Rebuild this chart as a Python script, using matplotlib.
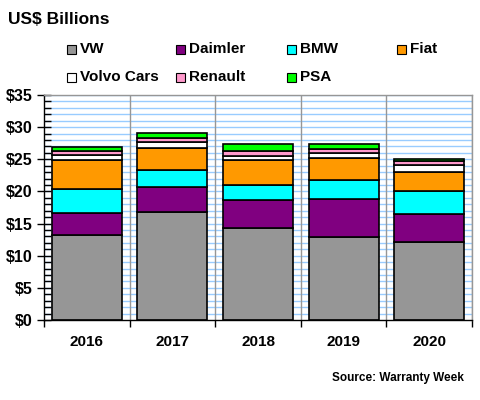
import matplotlib
matplotlib.use("Agg")
import matplotlib.pyplot as plt
from matplotlib.patches import Rectangle
from matplotlib.ticker import MultipleLocator, FixedLocator
import numpy as np

plt.rcParams['font.family'] = ['Liberation Sans', 'DejaVu Sans']

years = ["2016", "2017", "2018", "2019", "2020"]
series_names = ["VW", "Daimler", "BMW", "Fiat", "Volvo Cars", "Renault", "PSA"]
vw = [13.3, 16.75, 14.25, 12.85, 12.1]
daimler = [3.4, 3.9, 4.35, 5.9, 4.35]
bmw = [3.7, 2.65, 2.35, 3.1, 3.55]
fiat = [4.5, 3.4, 3.9, 3.4, 3.1]
volvo = [0.8, 0.95, 0.65, 0.8, 0.95]
renault = [0.6, 0.6, 0.75, 0.6, 0.65]
psa = [0.6, 0.85, 1.1, 0.8, 0.4]
colors = ["#969696", "#800080", "#00FFFF", "#FF9900", "#FFFFFF", "#FF99CC", "#00FF00"]
y_ticks = [0, 5, 10, 15, 20, 25, 30, 35]
y_labels = ["$" + str(v) for v in y_ticks]

data = [vw, daimler, bmw, fiat, volvo, renault, psa]

fig = plt.figure(figsize=(4.8, 4.0), dpi=100)
ax = fig.add_axes([44/480, 80/400, 428/480, 225/400])

x = np.arange(len(years))
bottom = np.zeros(len(years))
for vals, c in zip(data, colors):
    ax.bar(x, vals, bottom=bottom, width=0.82, color=c, edgecolor="black", linewidth=1.2, zorder=3)
    bottom += np.array(vals)

ax.set_xlim(-0.5, 4.5)
ax.set_ylim(0, 35)
ax.set_xticks(x)
ax.set_xticklabels(years, fontsize=11, fontweight="bold")
ax.xaxis.set_minor_locator(FixedLocator(np.arange(-0.5, 5.0, 1.0)))
ax.tick_params(axis="x", which="major", length=0, pad=11)
ax.tick_params(axis="x", which="minor", length=5, direction="out", width=1, color="black")

ax.set_yticks(y_ticks)
ax.set_yticklabels(y_labels, fontsize=11.5, fontweight="bold")
ax.yaxis.set_minor_locator(MultipleLocator(1))
ax.tick_params(axis="y", which="major", length=10, direction="inout", width=1, pad=3)
ax.tick_params(axis="y", which="minor", length=5, direction="in", width=1)

# grids
for v in np.arange(1, 35.01, 1):
    ax.axhline(v, color="#99CCFF", linewidth=1, zorder=1)
for xv in np.arange(0.5, 4.6, 1.0):
    ax.axvline(xv, color="#969696", linewidth=1, zorder=1.5)

ax.spines["left"].set_color("black")
ax.spines["bottom"].set_color("black")
ax.spines["top"].set_color("#969696")
ax.spines["right"].set_color("#969696")
for s in ax.spines.values():
    s.set_linewidth(1)
    s.set_zorder(4)

fig.text(8/480, 1 - 20/400, "US$ Billions", fontsize=12.5, fontweight="bold", va="center", ha="left")

# legend placed manually
leg_x = [67, 176, 287, 397]
leg_y = [49, 77]
for i, (name, c) in enumerate(zip(series_names, colors)):
    row, col = divmod(i, 4)
    px, py = leg_x[col], leg_y[row]
    fig.patches.append(Rectangle((px/480, 1 - (py + 4.5)/400), 9/480, 9/400,
                                 transform=fig.transFigure, facecolor=c,
                                 edgecolor="black", linewidth=0.8))
    fig.text((px + 13)/480, 1 - py/400, name, fontsize=11, fontweight="bold",
             va="center", ha="left")

fig.text(464/480, 1 - 378/400, "Source: Warranty Week", fontsize=8.5, fontweight="bold",
         va="center", ha="right")

fig.savefig("out.png", dpi=100)
